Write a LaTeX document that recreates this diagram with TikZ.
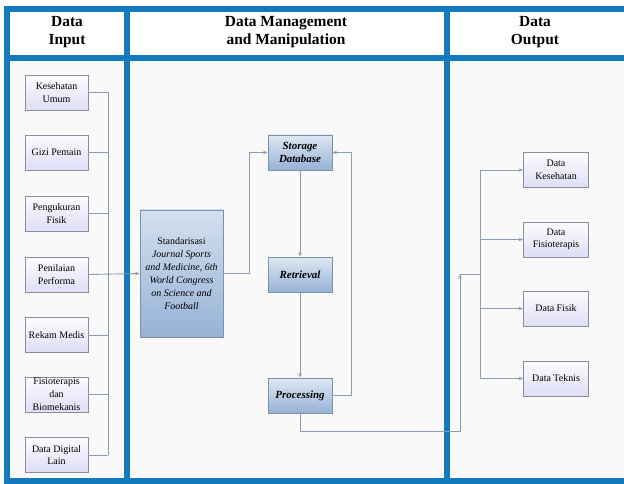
\documentclass[tikz,border=0pt]{standalone}
\usepackage{fontspec}
\setmainfont{Liberation Serif}
\usetikzlibrary{arrows.meta}

\definecolor{frameblue}{RGB}{20,122,190}
\definecolor{bodybg}{RGB}{249,249,250}
\definecolor{boxline}{RGB}{140,142,158}
\definecolor{lavtop}{RGB}{252,252,255}
\definecolor{lavbot}{RGB}{222,222,246}
\definecolor{bluetop}{RGB}{222,232,243}
\definecolor{bluebot}{RGB}{150,178,214}
\definecolor{blueline}{RGB}{125,145,172}
\definecolor{linkgray}{RGB}{140,156,178}

\tikzset{
  frame/.style={draw=frameblue, line width=6bp},
  inbox/.style={rectangle, draw=boxline, line width=0.9bp,
    top color=lavtop, bottom color=lavbot,
    minimum width=63bp, minimum height=35bp, inner sep=1bp,
    align=center, font=\fontsize{10}{12.5}\selectfont},
  outbox/.style={inbox, minimum width=65bp},
  procbox/.style={rectangle, draw=blueline, line width=0.9bp,
    top color=bluetop, bottom color=bluebot,
    minimum width=64bp, minimum height=35bp, inner sep=1bp,
    align=center, font=\fontsize{11}{13.5}\selectfont\bfseries\itshape},
  headtxt/.style={align=center, font=\fontsize{15.5}{18}\selectfont\bfseries},
  link/.style={draw=linkgray, line width=0.9bp},
  arr/.style={link, -{Stealth[length=4.5bp,width=3.5bp]}},
}

\begin{document}
\begin{tikzpicture}[x=1bp,y=-1bp]
  \useasboundingbox (0,0) rectangle (624,484);
  % background: white header band, light grey body
  \fill[white] (0,0) rectangle (624,484);
  \fill[bodybg] (7,58) rectangle (624,481);

  % blue grid
  \draw[frame] (4,9) -- (624,9);
  \draw[frame] (4,58) -- (624,58);
  \draw[frame] (4,481) -- (624,481);
  \draw[frame] (7,6) -- (7,484);
  \draw[frame] (127,6) -- (127,484);
  \draw[frame] (446.5,6) -- (446.5,484);

  % column headers
  \node[headtxt] (hIn)  at (67,32)  {Data\\Input};
  \node[headtxt] (hMid) at (286,32) {Data Management\\and Manipulation};
  \node[headtxt] (hOut) at (535,32) {Data\\Output};

  % input sources
  \node[inbox] (k1) at (56.5,92.5)  {Kesehatan\\Umum};
  \node[inbox] (k2) at (56.5,152.5) {Gizi Pemain};
  \node[inbox] (k3) at (56.5,213.5) {Pengukuran\\Fisik};
  \node[inbox] (k4) at (56.5,274.5) {Penilaian\\Performa};
  \node[inbox] (k5) at (56.5,335)   {Rekam Medis};
  \node[inbox, font=\fontsize{10}{13}\selectfont] (k6) at (56.5,394.5) {Fisioterapis\\dan\\Biomekanis};
  \node[inbox] (k7) at (56.5,455)   {Data Digital\\Lain};

  % standardisation block
  \node[rectangle, draw=blueline, line width=0.9bp,
        top color=bluetop!85!bluebot, bottom color=bluebot,
        minimum width=83bp, minimum height=127bp, inner sep=1bp,
        align=center, font=\fontsize{10}{13}\selectfont]
        (std) at (181.5,273.5)
        {Standarisasi\\\itshape Journal Sports\\\itshape and Medicine, 6th\\\itshape World Congress\\\itshape on Science and\\\itshape Football};

  % data management steps
  \node[procbox] (sto) at (300,152.5) {Storage\\Database};
  \node[procbox] (ret) at (300,274.5) {Retrieval};
  \node[procbox] (pro) at (300,395.5) {Processing};

  % outputs
  \node[outbox] (o1) at (556,170)   {Data\\Kesehatan};
  \node[outbox] (o2) at (556,239.5) {Data\\Fisioterapis};
  \node[outbox] (o3) at (556,308.5) {Data Fisik};
  \node[outbox] (o4) at (556,378.5) {Data Teknis};

  % routing points
  \coordinate (busL) at (108,0);
  \coordinate (jStd) at (249,0);
  \coordinate (jLoop) at (351,0);
  \coordinate (jLow) at (460,431);
  \coordinate (hub) at (460,274);
  \coordinate (busR) at (480,0);

  % input bus
  \foreach \k in {k1,k2,k3,k5,k6,k7}
    \draw[link] (\k.east) -- (\k.east -| busL);
  \draw[link] (k1.east -| busL) -- (k7.east -| busL);
  \draw[arr] (k4.east) -- (std.west);

  % management flow
  \draw[arr] (std.east) -- (std.east -| jStd) |- (sto.west);
  \draw[arr] (sto) -- (ret);
  \draw[arr] (ret) -- (pro);
  \draw[arr] (pro.east) -- (pro.east -| jLoop) |- (sto.east);
  \draw[arr] (pro.south) |- (jLow) -- (hub);

  % output bus
  \draw[link] (hub) -- (hub -| busR);
  \draw[link] (o1.west -| busR) -- (o4.west -| busR);
  \foreach \o in {o1,o2,o3,o4}
    \draw[arr] (\o.west -| busR) -- (\o.west);
\end{tikzpicture}
\end{document}
